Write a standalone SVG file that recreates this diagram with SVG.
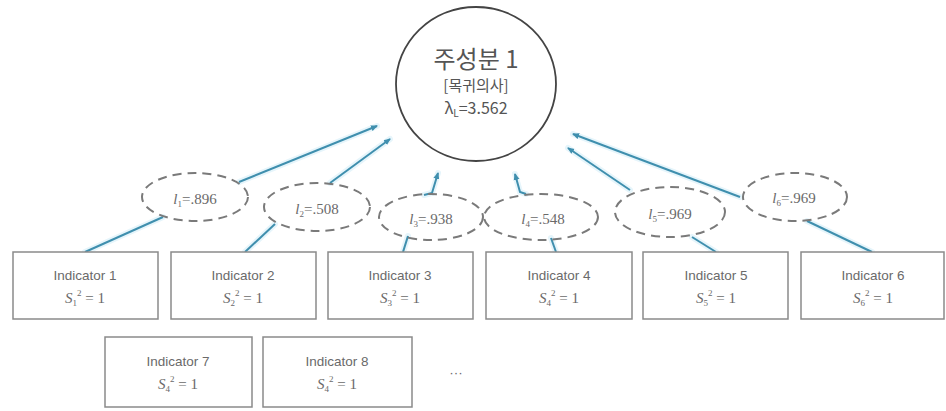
<svg xmlns="http://www.w3.org/2000/svg" width="946" height="411" viewBox="0 0 946 411">
<style>
.box{fill:#fff;stroke:#8a8a8a;stroke-width:1.5}
.ell{fill:none;stroke:#7a7a7a;stroke-width:2;stroke-dasharray:9 6}
.glow{fill:none;stroke:#e6f5fb;stroke-width:6;stroke-linecap:round}
.ln{fill:none;stroke:#3f8fae;stroke-width:2}
.lab{font-family:"Liberation Sans",sans-serif;font-size:13.5px;fill:#6a6a6a;text-anchor:middle}
.math{font-family:"Liberation Serif",serif;font-size:15px;fill:#6a6a6a;text-anchor:middle}
.lt{font-family:"Liberation Serif",serif;font-size:15px;fill:#6a6a6a;text-anchor:middle}
.kr{font-family:"Noto Sans CJK KR","Noto Sans",sans-serif;fill:#555;text-anchor:middle}
</style>
<defs>
<marker id="ah" markerWidth="8" markerHeight="8" refX="6" refY="4" orient="auto" markerUnits="userSpaceOnUse">
<path d="M0,1 L7,4 L0,7 Z" fill="#3f8fae"/>
</marker>
</defs>
<g id="connectors">
<g class="glowset">
<path class="glow" d="M85,252 L163,217"/>
<path class="glow" d="M239,182 L377,126"/>
<path class="glow" d="M245,252 L275,224"/>
<path class="glow" d="M330,183 L390,139"/>
<path class="glow" d="M403,252 L408,236"/>
<path class="glow" d="M424,195 L432,193 L438,173"/>
<path class="glow" d="M556,252 L551,238"/>
<path class="glow" d="M526,194 L520,192 L515,174"/>
<path class="glow" d="M630,190 L568,148"/>
<path class="glow" d="M740,197 L573,134"/>
<path class="glow" d="M716,252 L692,237"/>
<path class="glow" d="M872,252 L807,221"/>
</g>
<path class="ln" d="M85,252 L163,217"/>
<path class="ln" d="M239,182 L377,126" marker-end="url(#ah)"/>
<path class="ln" d="M245,252 L275,224"/>
<path class="ln" d="M330,183 L390,139" marker-end="url(#ah)"/>
<path class="ln" d="M403,252 L408,236"/>
<path class="ln" d="M424,195 L432,193 L438,173" marker-end="url(#ah)"/>
<path class="ln" d="M556,252 L551,238"/>
<path class="ln" d="M526,194 L520,192 L515,174" marker-end="url(#ah)"/>
<path class="ln" d="M630,190 L568,148" marker-end="url(#ah)"/>
<path class="ln" d="M740,197 L573,134" marker-end="url(#ah)"/>
<path class="ln" d="M716,252 L692,237"/>
<path class="ln" d="M872,252 L807,221"/>
</g>
<g id="pc1">
<ellipse cx="476" cy="84" rx="80" ry="77" fill="#fff" stroke="#444" stroke-width="1.8"/>
<text class="kr" x="476" y="68" font-size="24">주성분 1</text>
<text class="kr" x="476" y="91" font-size="15">[목귀의사]</text>
<text class="kr" x="476" y="114" font-size="16">λ<tspan font-size="10" dy="3">L</tspan><tspan dy="-3">=3.562</tspan></text>
</g>
<g id="l1"><ellipse class="ell" cx="195" cy="197" rx="53" ry="24"/><text class="lt" x="195" y="204"><tspan font-style="italic">l</tspan><tspan font-size="9" dy="3">1</tspan><tspan dy="-3">=.896</tspan></text></g>
<g id="l2"><ellipse class="ell" cx="317" cy="207" rx="53" ry="24"/><text class="lt" x="317" y="214"><tspan font-style="italic">l</tspan><tspan font-size="9" dy="3">2</tspan><tspan dy="-3">=.508</tspan></text></g>
<g id="l3"><ellipse class="ell" cx="431" cy="217" rx="52" ry="23"/><text class="lt" x="431" y="224"><tspan font-style="italic">l</tspan><tspan font-size="9" dy="3">3</tspan><tspan dy="-3">=.938</tspan></text></g>
<g id="l4"><ellipse class="ell" cx="541" cy="217" rx="57" ry="23"/><text class="lt" x="543" y="224"><tspan font-style="italic">l</tspan><tspan font-size="9" dy="3">4</tspan><tspan dy="-3">=.548</tspan></text></g>
<g id="l5"><ellipse class="ell" cx="670" cy="212" rx="55" ry="25"/><text class="lt" x="670" y="219"><tspan font-style="italic">l</tspan><tspan font-size="9" dy="3">5</tspan><tspan dy="-3">=.969</tspan></text></g>
<g id="l6"><ellipse class="ell" cx="795" cy="197" rx="52" ry="24"/><text class="lt" x="794" y="203"><tspan font-style="italic">l</tspan><tspan font-size="9" dy="3">6</tspan><tspan dy="-3">=.969</tspan></text></g>
<g id="ind1"><rect class="box" x="13" y="252" width="145" height="67"/><text class="lab" x="85" y="280">Indicator 1</text><text class="math" x="85" y="303"><tspan font-style="italic">S</tspan><tspan font-size="9" dy="3">1</tspan><tspan font-size="9" dy="-10">2</tspan><tspan dy="7"> = 1</tspan></text></g>
<g id="ind2"><rect class="box" x="171" y="252" width="145" height="67"/><text class="lab" x="243" y="280">Indicator 2</text><text class="math" x="243" y="303"><tspan font-style="italic">S</tspan><tspan font-size="9" dy="3">2</tspan><tspan font-size="9" dy="-10">2</tspan><tspan dy="7"> = 1</tspan></text></g>
<g id="ind3"><rect class="box" x="328" y="252" width="145" height="67"/><text class="lab" x="400" y="280">Indicator 3</text><text class="math" x="400" y="303"><tspan font-style="italic">S</tspan><tspan font-size="9" dy="3">3</tspan><tspan font-size="9" dy="-10">2</tspan><tspan dy="7"> = 1</tspan></text></g>
<g id="ind4"><rect class="box" x="486" y="252" width="146" height="67"/><text class="lab" x="559" y="280">Indicator 4</text><text class="math" x="559" y="303"><tspan font-style="italic">S</tspan><tspan font-size="9" dy="3">4</tspan><tspan font-size="9" dy="-10">2</tspan><tspan dy="7"> = 1</tspan></text></g>
<g id="ind5"><rect class="box" x="643" y="252" width="145" height="67"/><text class="lab" x="716" y="280">Indicator 5</text><text class="math" x="716" y="303"><tspan font-style="italic">S</tspan><tspan font-size="9" dy="3">5</tspan><tspan font-size="9" dy="-10">2</tspan><tspan dy="7"> = 1</tspan></text></g>
<g id="ind6"><rect class="box" x="801" y="252" width="143" height="67"/><text class="lab" x="873" y="280">Indicator 6</text><text class="math" x="873" y="303"><tspan font-style="italic">S</tspan><tspan font-size="9" dy="3">6</tspan><tspan font-size="9" dy="-10">2</tspan><tspan dy="7"> = 1</tspan></text></g>
<g id="ind7"><rect class="box" x="105" y="337" width="147" height="70"/><text class="lab" x="178" y="366">Indicator 7</text><text class="math" x="178" y="389"><tspan font-style="italic">S</tspan><tspan font-size="9" dy="3">4</tspan><tspan font-size="9" dy="-10">2</tspan><tspan dy="7"> = 1</tspan></text></g>
<g id="ind8"><rect class="box" x="263" y="337" width="149" height="70"/><text class="lab" x="337" y="366">Indicator 8</text><text class="math" x="337" y="389"><tspan font-style="italic">S</tspan><tspan font-size="9" dy="3">4</tspan><tspan font-size="9" dy="-10">2</tspan><tspan dy="7"> = 1</tspan></text></g>
<g id="more"><text class="lab" x="456" y="377">···</text></g>
</svg>
